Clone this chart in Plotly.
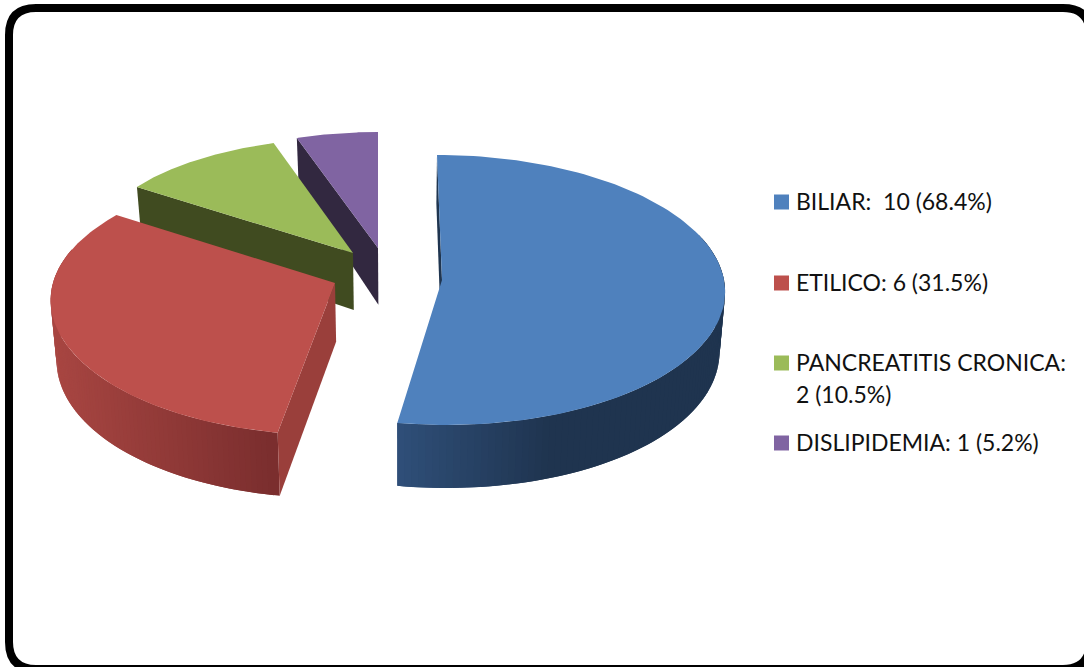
import numpy as np
import plotly.graph_objects as go

# Chart data
categories = ["BILIAR", "ETILICO", "PANCREATITIS CRONICA", "DISLIPIDEMIA"]
counts = [10, 6, 2, 1]
legend_lines = [
    ["BILIAR:  10 (68.4%)"],
    ["ETILICO: 6 (31.5%)"],
    ["PANCREATITIS CRONICA:", "2 (10.5%)"],
    ["DISLIPIDEMIA: 1 (5.2%)"],
]

# Colours per slice: top face, radial wall, rim gradient (light end, dark end)
top_colors = ["#4f81bd", "#bd504c", "#9bbb59", "#8064a2"]
wall_colors = ["#1f3550", "#9a3f3b", "#404b20", "#322840"]
rim_light = [(48, 80, 122), (168, 70, 66)]
rim_dark = [(31, 52, 79), (122, 46, 46)]

# Exploded slice placement: apex, radius and perspective terms for the projection
ax_x = [442, 335, 353, 378]
ax_y = [280, 283, 253, 248]
rad_x = [282, 282, 262, 250]
rad_x_tilt = [20, 31, 0, 0]
shear = [5, -6, -6, 0]
rad_y = [135, 134, 126.6, 122]
rad_y_tilt = [10, 18, 11, 6]

# Angular extent of each slice, clockwise from twelve o'clock
fractions = np.array(counts) / sum(counts)
edges = np.concatenate([[0], np.cumsum(fractions)]) * 2 * np.pi


def rim_point(i, theta):
    u, v = np.sin(theta), -np.cos(theta)
    x = ax_x[i] + u * (rad_x[i] + rad_x_tilt[i] * v) + shear[i] * v
    y = ax_y[i] + v * (rad_y[i] + rad_y_tilt[i] * v)
    return x, y


def drop(x, y):
    """Lower edge of the pie's side wall below a point of the top face."""
    depth = 63 - 16 * ((433 - y) / 295) ** 2
    return x + (400 - x) * 0.017, y + depth


def polygon(xs, ys, color):
    return go.Scatter(
        x=xs, y=ys, mode="lines", fill="toself", fillcolor=color,
        line=dict(width=0, color=color), hoverinfo="skip", showlegend=False,
    )


def mix(a, b, t):
    t = min(max(t, 0), 1)
    return "rgb(%d,%d,%d)" % tuple(a[k] + (b[k] - a[k]) * t for k in range(3))


def radial_wall(i, theta):
    rx, ry = rim_point(i, theta)
    px, py = ax_x[i], ax_y[i]
    bx0, by0 = drop(rx, ry)
    bx1, by1 = drop(px, py)
    return polygon([rx, px, bx1, bx0], [ry, py, by1, by0], wall_colors[i])


def outer_rim(i, start, stop, x_light, x_dark):
    """Side wall of the arc as overlapping strips shaded by horizontal position."""
    thetas = np.linspace(start, stop, 90)
    traces = []
    for j in range(len(thetas) - 1, 0, -1):
        seg = np.linspace(thetas[j - 1], thetas[min(j + 1, len(thetas) - 1)], 4)
        xs, ys = rim_point(i, seg)
        bx, by = drop(xs, ys)
        t = (xs.mean() - x_dark) / (x_light - x_dark)
        color = mix(rim_dark[i], rim_light[i], t)
        traces.append(polygon(
            np.concatenate([xs, bx[::-1]]), np.concatenate([ys, by[::-1]]), color,
        ))
    return traces


def top_face(i):
    thetas = np.linspace(edges[i], edges[i + 1], 120)
    xs, ys = rim_point(i, thetas)
    return polygon(
        np.concatenate([[ax_x[i]], xs, [ax_x[i]]]),
        np.concatenate([[ax_y[i]], ys, [ax_y[i]]]),
        top_colors[i],
    )


fig = go.Figure()

# Painted back to front
fig.add_trace(radial_wall(3, edges[3]))
fig.add_trace(top_face(3))
fig.add_trace(radial_wall(2, edges[2]))
fig.add_trace(top_face(2))

fig.add_traces(outer_rim(1, edges[1], np.radians(285), 56, 279))
fig.add_trace(radial_wall(1, edges[1]))
fig.add_trace(top_face(1))

fig.add_traces(outer_rim(0, np.radians(70), edges[1], 397, 557))
fig.add_trace(radial_wall(0, edges[0]))
fig.add_trace(top_face(0))

# Legend swatches and labels
swatch_y = [202, 283, 363, 443]
line_gap = 32
fig.add_trace(go.Scatter(
    x=[781.5] * len(categories), y=swatch_y, mode="markers",
    marker=dict(symbol="square", size=15, color=top_colors, line=dict(width=0)),
    hoverinfo="skip", showlegend=False,
))
annotations = []
for label, y0 in zip(legend_lines, swatch_y):
    for k, line in enumerate(label):
        annotations.append(dict(
            x=797, y=y0 + k * line_gap - 1, xref="x", yref="y", text=line,
            showarrow=False, xanchor="left", yanchor="middle", xshift=-3,
            font=dict(family="Lato", size=23, color="#111111"),
        ))

# Rounded frame round the whole chart
left, top, right, bottom, r = 9, 8, 1090, 669, 27
frame = (
    f"M {left + r} {top} L {right - r} {top} Q {right} {top} {right} {top + r} "
    f"L {right} {bottom - r} Q {right} {bottom} {right - r} {bottom} "
    f"L {left + r} {bottom} Q {left} {bottom} {left} {bottom - r} "
    f"L {left} {top + r} Q {left} {top} {left + r} {top} Z"
)

fig.update_layout(
    width=1084, height=667, margin=dict(l=0, r=0, t=0, b=0),
    paper_bgcolor="white", plot_bgcolor="white", hovermode=False,
    xaxis=dict(range=[0, 1084], visible=False, fixedrange=True),
    yaxis=dict(range=[667, 0], visible=False, fixedrange=True),
    annotations=annotations,
    shapes=[dict(type="path", path=frame, xref="x", yref="y",
                 line=dict(color="black", width=8), fillcolor="rgba(0,0,0,0)")],
)

fig.write_html("out.html", config={"displayModeBar": False})
